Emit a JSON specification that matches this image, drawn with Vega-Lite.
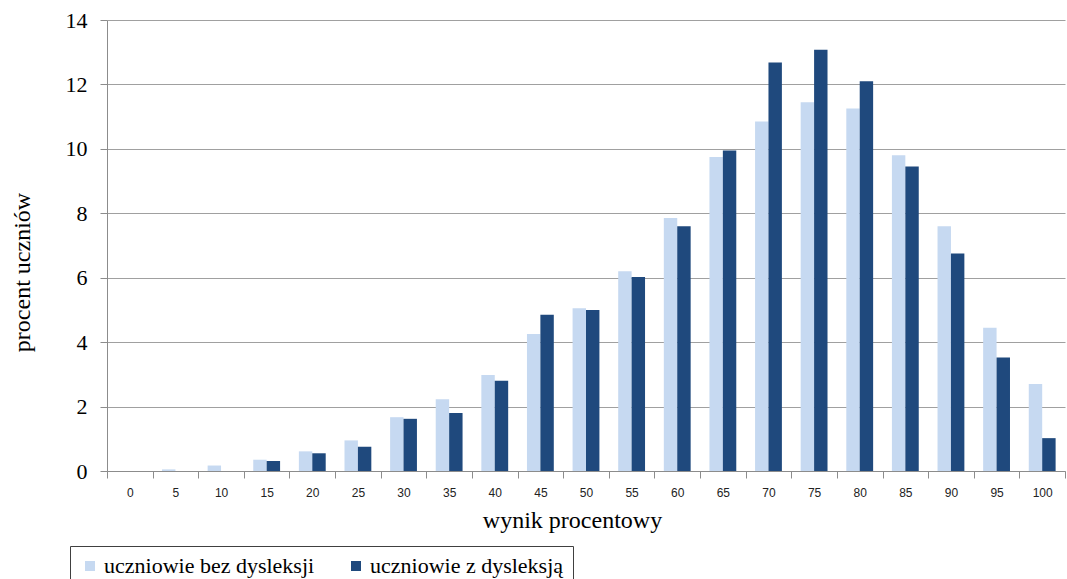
{
  "$schema": "https://vega.github.io/schema/vega-lite/v6.json",
  "width": 958,
  "height": 451,
  "autosize": {"type": "none"},
  "padding": {"left": 107, "top": 20, "right": 2, "bottom": 108},
  "background": "white",
  "config": {
    "view": {"stroke": null},
    "font": "Liberation Serif"
  },
  "data": {
    "values": [
      {"wynik": "0", "grupa": "uczniowie bez dysleksji", "procent": 0.0},
      {"wynik": "5", "grupa": "uczniowie bez dysleksji", "procent": 0.05},
      {"wynik": "10", "grupa": "uczniowie bez dysleksji", "procent": 0.17},
      {"wynik": "15", "grupa": "uczniowie bez dysleksji", "procent": 0.35},
      {"wynik": "20", "grupa": "uczniowie bez dysleksji", "procent": 0.61},
      {"wynik": "25", "grupa": "uczniowie bez dysleksji", "procent": 0.95},
      {"wynik": "30", "grupa": "uczniowie bez dysleksji", "procent": 1.67},
      {"wynik": "35", "grupa": "uczniowie bez dysleksji", "procent": 2.23},
      {"wynik": "40", "grupa": "uczniowie bez dysleksji", "procent": 2.98},
      {"wynik": "45", "grupa": "uczniowie bez dysleksji", "procent": 4.25},
      {"wynik": "50", "grupa": "uczniowie bez dysleksji", "procent": 5.05},
      {"wynik": "55", "grupa": "uczniowie bez dysleksji", "procent": 6.2},
      {"wynik": "60", "grupa": "uczniowie bez dysleksji", "procent": 7.85},
      {"wynik": "65", "grupa": "uczniowie bez dysleksji", "procent": 9.75},
      {"wynik": "70", "grupa": "uczniowie bez dysleksji", "procent": 10.85},
      {"wynik": "75", "grupa": "uczniowie bez dysleksji", "procent": 11.45},
      {"wynik": "80", "grupa": "uczniowie bez dysleksji", "procent": 11.25},
      {"wynik": "85", "grupa": "uczniowie bez dysleksji", "procent": 9.8},
      {"wynik": "90", "grupa": "uczniowie bez dysleksji", "procent": 7.6},
      {"wynik": "95", "grupa": "uczniowie bez dysleksji", "procent": 4.45},
      {"wynik": "100", "grupa": "uczniowie bez dysleksji", "procent": 2.7},
      {"wynik": "0", "grupa": "uczniowie z dysleksją", "procent": 0.0},
      {"wynik": "5", "grupa": "uczniowie z dysleksją", "procent": 0.0},
      {"wynik": "10", "grupa": "uczniowie z dysleksją", "procent": 0.0},
      {"wynik": "15", "grupa": "uczniowie z dysleksją", "procent": 0.31},
      {"wynik": "20", "grupa": "uczniowie z dysleksją", "procent": 0.55},
      {"wynik": "25", "grupa": "uczniowie z dysleksją", "procent": 0.75},
      {"wynik": "30", "grupa": "uczniowie z dysleksją", "procent": 1.62},
      {"wynik": "35", "grupa": "uczniowie z dysleksją", "procent": 1.8},
      {"wynik": "40", "grupa": "uczniowie z dysleksją", "procent": 2.8},
      {"wynik": "45", "grupa": "uczniowie z dysleksją", "procent": 4.85},
      {"wynik": "50", "grupa": "uczniowie z dysleksją", "procent": 5.0},
      {"wynik": "55", "grupa": "uczniowie z dysleksją", "procent": 6.02},
      {"wynik": "60", "grupa": "uczniowie z dysleksją", "procent": 7.6},
      {"wynik": "65", "grupa": "uczniowie z dysleksją", "procent": 9.95},
      {"wynik": "70", "grupa": "uczniowie z dysleksją", "procent": 12.68},
      {"wynik": "75", "grupa": "uczniowie z dysleksją", "procent": 13.08},
      {"wynik": "80", "grupa": "uczniowie z dysleksją", "procent": 12.1},
      {"wynik": "85", "grupa": "uczniowie z dysleksją", "procent": 9.45},
      {"wynik": "90", "grupa": "uczniowie z dysleksją", "procent": 6.75},
      {"wynik": "95", "grupa": "uczniowie z dysleksją", "procent": 3.52},
      {"wynik": "100", "grupa": "uczniowie z dysleksją", "procent": 1.02}
    ]
  },
  "mark": {"type": "bar", "strokeWidth": 0.8},
  "encoding": {
    "x": {
      "field": "wynik",
      "type": "nominal",
      "sort": ["0","5","10","15","20","25","30","35","40","45","50","55","60","65","70","75","80","85","90","95","100"],
      "scale": {"paddingInner": 0, "paddingOuter": 0},
      "axis": {
        "title": "wynik procentowy",
        "titleFont": "Liberation Serif",
        "titleFontSize": 24,
        "titleFontWeight": "normal",
        "titleColor": "black",
        "titleX": 465,
        "titleY": 49,
        "titleBaseline": "middle",
        "labelAngle": 0,
        "labelFont": "Liberation Sans",
        "labelFontSize": 12,
        "labelColor": "#222222",
        "labelPadding": 9,
        "bandPosition": 0,
        "tickBand": "extent",
        "ticks": true,
        "tickSize": 7,
        "tickColor": "#8c8c8c",
        "domainColor": "#8c8c8c",
        "grid": false
      }
    },
    "xOffset": {
      "field": "grupa",
      "type": "nominal",
      "sort": ["uczniowie bez dysleksji", "uczniowie z dysleksją"],
      "scale": {"paddingInner": 0, "paddingOuter": 0.7}
    },
    "y": {
      "field": "procent",
      "type": "quantitative",
      "scale": {"domain": [0, 14], "nice": false},
      "axis": {
        "title": "procent uczniów",
        "titleFont": "Liberation Serif",
        "titleFontSize": 24,
        "titleFontWeight": "normal",
        "titleColor": "black",
        "titleAngle": -90,
        "titleX": -85,
        "titleY": 252,
        "titleAlign": "center",
        "titleBaseline": "middle",
        "values": [0, 2, 4, 6, 8, 10, 12, 14],
        "labelFont": "Liberation Serif",
        "labelFontSize": 22,
        "labelColor": "black",
        "labelPadding": 13,
        "tickSize": 7,
        "tickColor": "#8c8c8c",
        "domainColor": "#8c8c8c",
        "grid": true,
        "gridColor": "#a0a0a0",
        "gridWidth": 1
      }
    },
    "color": {
      "field": "grupa",
      "type": "nominal",
      "sort": ["uczniowie bez dysleksji", "uczniowie z dysleksją"],
      "scale": {
        "domain": ["uczniowie bez dysleksji", "uczniowie z dysleksją"],
        "range": ["#c6d9f1", "#1f497d"]
      },
      "legend": {
        "title": null,
        "orient": "none",
        "direction": "horizontal",
        "legendX": -37,
        "legendY": 526,
        "padding": 9,
        "strokeColor": "#404040",
        "fillColor": "white",
        "symbolType": "square",
        "symbolSize": 100,
        "symbolStrokeWidth": 0,
        "labelFont": "Liberation Serif",
        "labelFontSize": 22,
        "labelColor": "black",
        "labelOffset": 3,
        "labelLimit": 400,
        "columnPadding": 30
      }
    }
  }
}
